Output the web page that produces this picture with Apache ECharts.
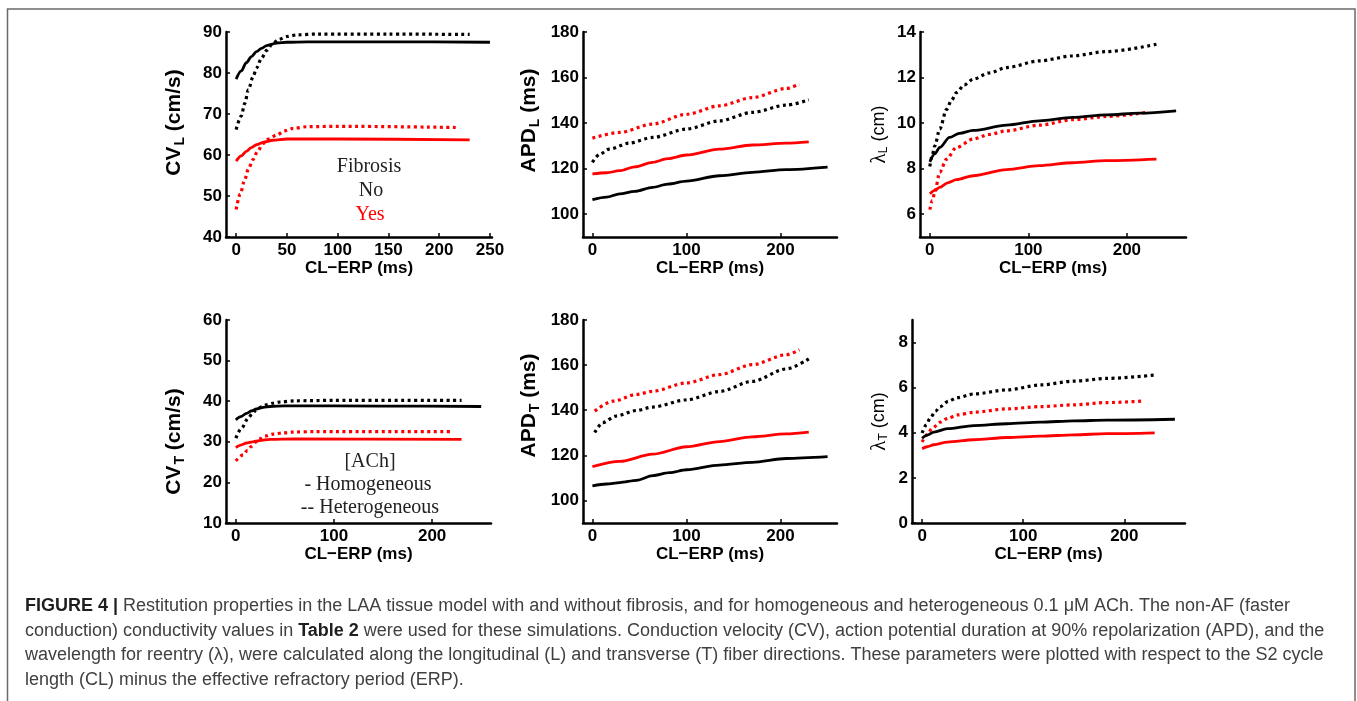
<!DOCTYPE html>
<html>
<head>
<meta charset="utf-8">
<script src="https://cdn.jsdelivr.net/npm/echarts@6/dist/echarts.min.js"></script>
<style>
html,body{margin:0;padding:0;background:#fff;}
#chart{width:1357px;height:701px;}
</style>
</head>
<body>
<div id="chart"></div>
<script>
// ---------------- DATA ----------------
// x = CL-ERP (ms); each array is [x, y] points
// Panel A: CV_L (cm/s)
const cvL_noFib_hom = [[0,78.5],[5,80.5],[10,82.5],[15,84],[20,85.2],[25,86],[30,86.7],[40,87.3],[50,87.5],[70,87.6],[150,87.6],[250,87.5]];
const cvL_noFib_het = [[0,66.2],[5,69.5],[8.5,72.6],[12,75.9],[16.7,79.1],[20,81.2],[25,83.6],[30,85.5],[36,87.2],[42,88.2],[50,88.9],[60,89.3],[80,89.5],[150,89.5],[230,89.4]];
const cvL_fib_hom = [[0,58.5],[5,59.8],[10,60.9],[15,61.8],[20,62.5],[28,63.2],[36,63.6],[50,63.9],[100,63.9],[230,63.7]];
const cvL_fib_het = [[0,46.7],[4,50.5],[8.5,54],[12,56.6],[16.7,58.9],[21,60.9],[26.5,62.8],[32,63.9],[40,64.9],[48,65.9],[56,66.5],[70,66.9],[100,67.0],[220,66.7]];
// Panel B: APD_L (ms)
const apdL_noFib_hom = [[0,106.4],[15,107.5],[29,108.9],[45,110],[64,111.8],[80,113.2],[100,114.5],[135,116.9],[170,118.4],[206,119.6],[250,120.7]];
const apdL_noFib_het = [[0,122.8],[8,126.4],[18,128.6],[39,131.2],[64,133.7],[100,137.4],[135,141],[170,144.7],[206,147.9],[230,150.2]];
const apdL_fib_hom = [[0,117.7],[15,118.2],[29,119.1],[45,120.8],[64,122.8],[80,124.4],[100,126],[135,128.6],[170,130.4],[206,131.2],[230,131.8]];
const apdL_fib_het = [[0,133.4],[29,135.9],[64,139.6],[100,143.9],[135,147.6],[170,151.2],[206,155.2],[220,157.1]];
// Panel C: lambda_L (cm)
const lamL_noFib_hom = [[0,8.3],[5,8.65],[10,8.93],[20,9.37],[30,9.55],[44,9.68],[78,9.91],[111,10.1],[145,10.25],[179,10.36],[213,10.44],[250,10.54]];
const lamL_noFib_het = [[0,8.1],[2.5,8.6],[5,9.0],[10,9.74],[17,10.6],[22,11.0],[27,11.34],[35,11.68],[44,11.93],[60,12.2],[78,12.44],[111,12.73],[145,12.95],[179,13.14],[230,13.46]];
const lamL_fib_hom = [[0,6.9],[5,7.05],[10,7.18],[18,7.38],[27,7.52],[44,7.69],[78,7.96],[111,8.13],[145,8.26],[179,8.35],[230,8.42]];
const lamL_fib_het = [[0,6.2],[2.5,6.6],[5,6.96],[10,7.84],[17,8.42],[27,8.93],[44,9.3],[60,9.5],[78,9.66],[111,9.91],[145,10.15],[179,10.29],[220,10.47]];
// Panel D: CV_T (cm/s)
const cvT_noFib_hom = [[0,35.4],[5,36.2],[11,37.0],[16,37.6],[21,38.1],[28,38.5],[35,38.7],[50,38.85],[150,38.8],[250,38.7]];
const cvT_noFib_het = [[0,30.9],[6,33.4],[12.5,35.8],[17,37.0],[21,37.9],[26,38.6],[31,39.1],[38,39.5],[45,39.8],[60,40.1],[100,40.2],[230,40.2]];
const cvT_fib_hom = [[0,28.6],[5,29.2],[11,29.7],[17,30.0],[24,30.3],[35,30.6],[60,30.7],[230,30.6]];
const cvT_fib_het = [[0,25.3],[7.5,26.8],[12,27.9],[16,28.9],[20,29.9],[24,30.7],[30,31.4],[38,31.9],[48,32.2],[58,32.4],[80,32.5],[220,32.5]];
// Panel E: APD_T (ms)
const apdT_noFib_hom = [[0,106.5],[15,107.3],[29,107.9],[47,108.9],[64,111],[82,112.3],[100,113.6],[135,115.7],[170,116.9],[206,118.6],[250,119.4]];
const apdT_noFib_het = [[2.5,130.1],[11,134.5],[25,137.4],[47,139.9],[64,141.4],[100,144.6],[135,148.3],[170,152.8],[206,158.3],[230,162.8]];
const apdT_fib_hom = [[0,115],[29,117.3],[64,120.5],[100,123.8],[135,126.1],[170,128.2],[206,129.5],[230,130.3]];
const apdT_fib_het = [[2.5,139.6],[22,144],[47,147],[64,148.4],[100,152.1],[135,155.8],[170,160.2],[206,164.6],[220,166.8]];
// Panel F: lambda_T (cm)
const lamT_noFib_hom = [[0,3.76],[5,3.9],[11.6,4.03],[25,4.18],[51,4.32],[84,4.4],[117,4.47],[150,4.53],[183,4.56],[250,4.6]];
const lamT_noFib_het = [[0,3.99],[4,4.35],[8,4.65],[13,4.95],[18,5.16],[26,5.4],[35,5.56],[51,5.72],[84,5.9],[117,6.12],[150,6.29],[183,6.41],[230,6.56]];
const lamT_fib_hom = [[0,3.29],[5,3.38],[11.6,3.47],[25,3.59],[51,3.69],[84,3.79],[117,3.85],[150,3.91],[183,3.96],[230,4.0]];
const lamT_fib_het = [[0,3.59],[5,3.92],[10,4.2],[18,4.47],[26,4.66],[35,4.79],[51,4.91],[84,5.06],[117,5.16],[150,5.24],[183,5.34],[220,5.41]];

// tick labels
const xTicksA = [0,50,100,150,200,250];
const xTicksB = [0,100,200];
const yTicksCVL = [40,50,60,70,80,90];
const yTicksAPD = [100,120,140,160,180];
const yTicksLamL = [6,8,10,12,14];
const yTicksCVT = [10,20,30,40,50,60];
const yTicksLamT = [0,2,4,6,8];

// text
const xName = 'CL\u2212ERP (ms)';
const caption = [
  '{b|FIGURE 4 |} Restitution properties in the LAA tissue model with and without fibrosis, and for homogeneous and heterogeneous 0.1 \u03bcM ACh. The non-AF (faster',
  'conduction) conductivity values in {b|Table 2} were used for these simulations. Conduction velocity (CV), action potential duration at 90% repolarization (APD), and the',
  'wavelength for reentry (\u03bb), were calculated along the longitudinal (L) and transverse (T) fiber directions. These parameters were plotted with respect to the S2 cycle',
  'length (CL) minus the effective refractory period (ERP).'
];

// ---------------- LAYOUT / STYLE ----------------
const SANS = 'Liberation Sans, Arial, Helvetica, sans-serif';
const SERIF = 'Liberation Serif, Times New Roman, serif';
const BLACK = '#000000', RED = '#ff0000';

const panels = [
  {left:226, top:32, width:266, height:205, xMin:-10, xMax:252, xTicks:xTicksA, yMin:40, yMax:90, yInt:10, yTicks:yTicksCVL,
   name:'{b|CV}{s|L}{b| (cm/s)}', gap:39, pad:[0,0,0,24], series:[cvL_noFib_hom, cvL_noFib_het, cvL_fib_hom, cvL_fib_het]},
  {left:583, top:32, width:254, height:205, xMin:-10, xMax:260, xTicks:xTicksB, yMin:90, yMax:180, yInt:10, yTicks:yTicksAPD,
   name:'{b|APD}{s|L}{b| (ms)}', gap:41, pad:[0,0,0,28], series:[apdL_noFib_hom, apdL_noFib_het, apdL_fib_hom, apdL_fib_het]},
  {left:920, top:32, width:266, height:205, xMin:-10, xMax:260, xTicks:xTicksB, yMin:5, yMax:14, yInt:1, yTicks:yTicksLamL,
   name:'{g|\u03bb}{rs|L}{r| (cm)}', gap:30, pad:[0,0,0,0], series:[lamL_noFib_hom, lamL_noFib_het, lamL_fib_hom, lamL_fib_het]},
  {left:226, top:320, width:265, height:203, xMin:-10, xMax:260, xTicks:xTicksB, yMin:10, yMax:60, yInt:10, yTicks:yTicksCVT,
   name:'{b|CV}{s|T}{b| (cm/s)}', gap:39, pad:[0,40,0,0], series:[cvT_noFib_hom, cvT_noFib_het, cvT_fib_hom, cvT_fib_het]},
  {left:583, top:320, width:254, height:203, xMin:-10, xMax:260, xTicks:xTicksB, yMin:90, yMax:180, yInt:10, yTicks:yTicksAPD,
   name:'{b|APD}{s|T}{b| (ms)}', gap:41, pad:[0,0,0,32], series:[apdT_noFib_hom, apdT_noFib_het, apdT_fib_hom, apdT_fib_het]},
  {left:912, top:320, width:273, height:203, xMin:-10, xMax:260, xTicks:xTicksB, yMin:0, yMax:9, yInt:1, yTicks:yTicksLamT,
   name:'{g|\u03bb}{rs|T}{r| (cm)}', gap:22, pad:[0,0,0,0], series:[lamT_noFib_hom, lamT_noFib_het, lamT_fib_hom, lamT_fib_het]}
];
// series order: [noFib hom, noFib het, fib hom, fib het]
const seriesStyle = [
  {color:BLACK, dash:'solid'},
  {color:BLACK, dash:[3,3.5]},
  {color:RED, dash:'solid'},
  {color:RED, dash:[3,3.5]}
];

const nameRich = {
  b:{fontFamily:SANS, fontWeight:'bold', fontSize:21, color:'#000'},
  s:{fontFamily:SANS, fontWeight:'bold', fontSize:14, color:'#000', padding:[11,0,0,1]},
  g:{fontFamily:SERIF, fontSize:21, color:'#000'},
  r:{fontFamily:SANS, fontSize:18, color:'#000'},
  rs:{fontFamily:SANS, fontSize:12, color:'#000', padding:[10,0,0,0]}
};

const grid = [], xAxis = [], yAxis = [], series = [];
panels.forEach((p, i) => {
  grid.push({left:p.left, top:p.top, width:p.width, height:p.height, containLabel:false});
  xAxis.push({
    type:'value', gridIndex:i, min:p.xMin, max:p.xMax, interval:10,
    name:xName, nameLocation:'middle', nameGap:16,
    nameTextStyle:{fontFamily:SANS, fontWeight:'bold', fontSize:17, color:'#000'},
    axisLine:{show:true, onZero:false, lineStyle:{color:'#000', width:2.5}},
    axisTick:{show:true, inside:true, length:4, customValues:p.xTicks, lineStyle:{color:'#000', width:1.5}},
    axisLabel:{customValues:p.xTicks, fontFamily:SANS, fontWeight:'bold', fontSize:17, color:'#000', margin:5},
    splitLine:{show:false}
  });
  yAxis.push({
    type:'value', gridIndex:i, min:p.yMin, max:p.yMax, interval:p.yInt,
    name:p.name, nameLocation:'middle', nameGap:p.gap, nameRotate:90,
    nameTextStyle:{rich:nameRich, padding:p.pad},
    axisLine:{show:true, onZero:false, lineStyle:{color:'#000', width:2.5}},
    axisTick:{show:true, inside:true, length:4, customValues:p.yTicks, lineStyle:{color:'#000', width:1.5}},
    axisLabel:{customValues:p.yTicks, fontFamily:SANS, fontWeight:'bold', fontSize:17, color:'#000', margin:4},
    splitLine:{show:false}
  });
  p.series.forEach((d, k) => {
    const st = seriesStyle[k];
    series.push({
      type:'line', xAxisIndex:i, yAxisIndex:i, data:d,
      showSymbol:false, smooth:0.3, smoothMonotone:'x', silent:true,
      lineStyle:{color:st.color, width:st.dash === 'solid' ? 2.8 : 3.2, type:st.dash, cap:'butt'},
      z: st.dash === 'solid' ? 3 : 2
    });
  });
});

const serifText = (x, y, txt, color) => ({
  type:'text', x:x, y:y, silent:true,
  style:{text:txt, fontFamily:SERIF, fontSize:20, fill:color, align:'center', verticalAlign:'middle'}
});

const captionRich = {
  b:{fontFamily:SANS, fontWeight:'bold', fontSize:18, fill:'#1e1e1e'}
};
const captionY = [606, 631, 655, 680];

const graphic = [
  {type:'rect', shape:{x:7.5, y:9, width:1347.5, height:720}, silent:true,
   style:{fill:'none', stroke:'#6a6a6a', lineWidth:1.5}},
  serifText(369, 167, 'Fibrosis', '#222'),
  serifText(371, 191, 'No', '#222'),
  serifText(370, 215, 'Yes', RED),
  serifText(370, 462, '[ACh]', '#222'),
  serifText(368, 485, '- Homogeneous', '#222'),
  serifText(370, 508, '-- Heterogeneous', '#222')
];
caption.forEach((line, i) => {
  graphic.push({
    type:'text', x:25, y:captionY[i], silent:true,
    style:{text:line, rich:captionRich, fontFamily:SANS, fontSize:18, fill:'#404040', align:'left', verticalAlign:'middle'}
  });
});

const chart = echarts.init(document.getElementById('chart'), null, {renderer:'canvas'});
chart.setOption({
  animation:false,
  backgroundColor:'#ffffff',
  grid, xAxis, yAxis, series, graphic
});
</script>
</body>
</html>
